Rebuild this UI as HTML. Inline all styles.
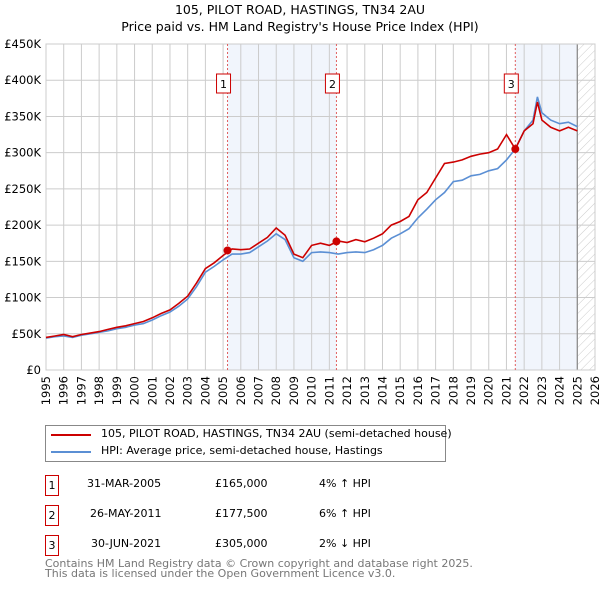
<!DOCTYPE html>
<html><head><meta charset="utf-8"><style>
body{margin:0;background:#fff;font-family:"DejaVu Sans","Liberation Sans",sans-serif;}
#w{position:relative;width:600px;height:590px;overflow:hidden;}
.t{position:absolute;font-size:11.5px;color:#000;white-space:nowrap}
.box{position:absolute;border:1px solid #c00;width:12px;height:19px;font-size:11px;text-align:center;line-height:19px}
</style></head><body><div id="w">
<div class="t" style="left:0;width:600px;text-align:center;top:2px;font-size:12.5px">105, PILOT ROAD, HASTINGS, TN34 2AU</div>
<div class="t" style="left:0;width:600px;text-align:center;top:19px;font-size:12.5px">Price paid vs. HM Land Registry's House Price Index (HPI)</div>
<svg id="c" width="600" height="420" style="position:absolute;left:0;top:0">
<defs><pattern id="h" width="6" height="6" patternUnits="userSpaceOnUse" patternTransform="rotate(45)"><line x1="0" y1="0" x2="0" y2="6" stroke="#ccc" stroke-width="1"/></pattern></defs>
</svg>
<div style="position:absolute;left:45px;top:425px;width:399px;height:35px;border:1px solid #888">
<div style="position:absolute;left:5px;top:8px;width:40px;height:2px;background:#c00"></div>
<div class="t" style="left:55px;top:1px;font-size:11px">105, PILOT ROAD, HASTINGS, TN34 2AU (semi-detached house)</div>
<div style="position:absolute;left:5px;top:25px;width:40px;height:2px;background:#5b8fd4"></div>
<div class="t" style="left:55px;top:18px;font-size:11px">HPI: Average price, semi-detached house, Hastings</div>
</div>
<div class="box" style="left:45px;top:475px">1</div>
<div class="t" style="left:87px;top:477px;font-size:11px">31-MAR-2005</div>
<div class="t" style="left:215px;top:477px;font-size:11px">£165,000</div>
<div class="t" style="left:319px;top:477px;font-size:11px">4% ↑ HPI</div>
<div class="box" style="left:45px;top:505px">2</div>
<div class="t" style="left:90px;top:507px;font-size:11px">26-MAY-2011</div>
<div class="t" style="left:215px;top:507px;font-size:11px">£177,500</div>
<div class="t" style="left:319px;top:507px;font-size:11px">6% ↑ HPI</div>
<div class="box" style="left:45px;top:535px">3</div>
<div class="t" style="left:91px;top:537px;font-size:11px">30-JUN-2021</div>
<div class="t" style="left:215px;top:537px;font-size:11px">£305,000</div>
<div class="t" style="left:319px;top:537px;font-size:11px">2% ↓ HPI</div>
<div class="t" style="left:45px;top:559px;font-size:11px;color:#777;line-height:10px">Contains HM Land Registry data © Crown copyright and database right 2025.<br>This data is licensed under the Open Government Licence v3.0.</div>
</div>
<script>
const years=[1995,1995.5,1996,1996.5,1997,1997.5,1998,1998.5,1999,1999.5,2000,2000.5,2001,2001.5,2002,2002.5,2003,2003.5,2004,2004.5,2005,2005.5,2006,2006.5,2007,2007.5,2008,2008.5,2009,2009.5,2010,2010.5,2011,2011.5,2012,2012.5,2013,2013.5,2014,2014.5,2015,2015.5,2016,2016.5,2017,2017.5,2018,2018.5,2019,2019.5,2020,2020.5,2021,2021.5,2022,2022.5,2022.75,2023,2023.5,2024,2024.5,2025];
const hpi=[44,46,47,45,48,50,52,54,57,59,62,64,69,75,80,88,98,115,135,143,152,160,160,162,170,178,188,180,155,150,162,163,162,160,162,163,162,166,172,182,188,195,210,222,235,245,260,262,268,270,275,278,290,305,330,345,377,355,345,340,342,336];
const price=[45,47,49,46,49,51,53,56,59,61,64,67,72,78,83,92,102,120,140,148,158,167,166,167,175,183,196,186,160,155,172,175,172,178,176,180,177,182,188,200,205,212,235,245,265,285,287,290,295,298,300,305,325,305,330,340,370,345,335,330,335,330];
const saleDates=[2005.25,2011.4,2021.5];
const salePrices=[165,177.5,305];
const saleLabels=["1","2","3"];
const yTicks=[0,50,100,150,200,250,300,350,400,450];
const yTickLabels=["£0","£50K","£100K","£150K","£200K","£250K","£300K","£350K","£400K","£450K"];
const xTicks=[1995,1996,1997,1998,1999,2000,2001,2002,2003,2004,2005,2006,2007,2008,2009,2010,2011,2012,2013,2014,2015,2016,2017,2018,2019,2020,2021,2022,2023,2024,2025,2026];
const X0=46,X1=595,Y0=370,Y1=44;
const x=v=>X0+(v-1995)/31*(X1-X0);
const y=v=>Y0-v/450*(Y0-Y1);
const svg=document.getElementById('c');const NS='http://www.w3.org/2000/svg';
function mk(t,a){const e=document.createElementNS(NS,t);for(const k in a)e.setAttribute(k,a[k]);svg.appendChild(e);return e;}
let e;
e=mk('rect',{x:x(saleDates[0]),y:Y1,width:x(saleDates[1])-x(saleDates[0]),height:Y0-Y1,fill:'#eef2fb',opacity:0.8});

e=mk('rect',{x:x(saleDates[2]),y:Y1,width:x(2025)-x(saleDates[2]),height:Y0-Y1,fill:'#eef2fb',opacity:0.8});

e=mk('rect',{x:x(2025),y:Y1,width:X1-x(2025),height:Y0-Y1,fill:'url(#h)'});

yTicks.forEach((v,i)=>{e=mk('line',{x1:X0,x2:X1,y1:y(v),y2:y(v),stroke:'#ccc'});

e=mk('text',{x:X0-5,y:y(v)+4,'text-anchor':'end','font-size':'11.5','font-family':'DejaVu Sans, sans-serif'});e.textContent=yTickLabels[i];
});
xTicks.forEach(v=>{e=mk('line',{x1:x(v),x2:x(v),y1:Y1,y2:Y0,stroke:'#ccc'});

e=mk('text',{x:0,y:0,transform:`translate(${x(v)+4},${Y0+6}) rotate(-90)`,'text-anchor':'end','font-size':'11.5','font-family':'DejaVu Sans, sans-serif'});e.textContent=v;
});
e=mk('line',{x1:x(2025),x2:x(2025),y1:Y1,y2:Y0,stroke:'#888',"stroke-width":1.2});

e=mk('rect',{x:X0,y:Y1,width:X1-X0,height:Y0-Y1,fill:'none',stroke:'#ccc'});

saleDates.forEach((d,i)=>{e=mk('line',{x1:x(d),x2:x(d),y1:Y1,y2:Y0,stroke:'#e06060','stroke-dasharray':'2,2'});
});
const pts=a=>a.map((v,i)=>x(years[i]).toFixed(1)+','+y(v).toFixed(1)).join(' ');
e=mk('polyline',{points:pts(hpi),fill:'none',stroke:'#5b8fd4','stroke-width':1.6});

e=mk('polyline',{points:pts(price),fill:'none',stroke:'#c00','stroke-width':1.6});

saleDates.forEach((d,i)=>{e=mk('circle',{cx:x(d),cy:y(salePrices[i]),r:4,fill:'#c00'});

e=mk('rect',{x:x(d)-11,y:74,width:14,height:19,fill:'#fff',stroke:'#c00'});

e=mk('text',{x:x(d)-4,y:88,'text-anchor':'middle','font-size':'11','font-family':'DejaVu Sans, sans-serif'});e.textContent=saleLabels[i];
});
</script></body></html>
